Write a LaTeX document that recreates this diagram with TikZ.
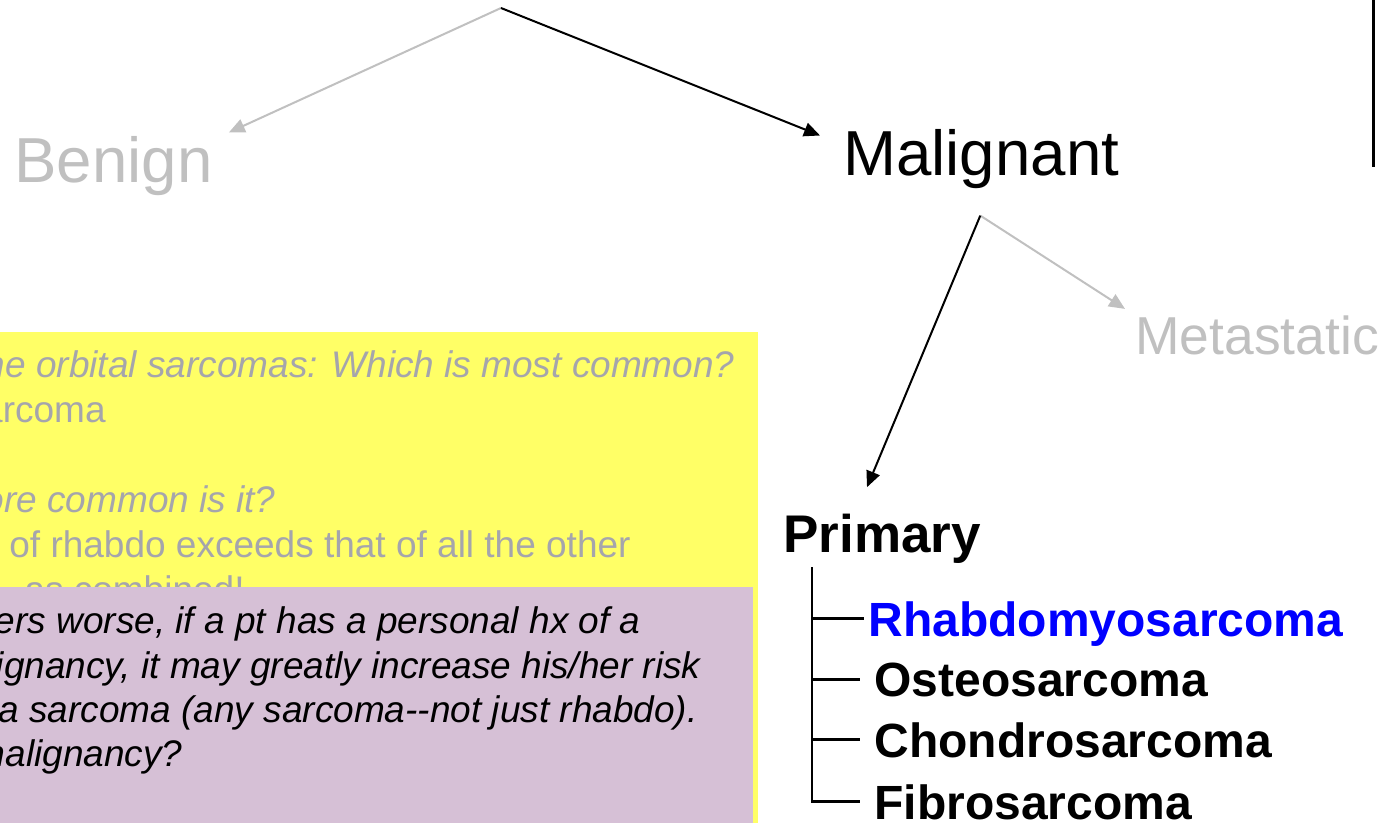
\documentclass[tikz,border=0pt]{standalone}
\usepackage{fontspec}
\setmainfont{Liberation Sans}
\usetikzlibrary{arrows.meta}
\definecolor{notepad}{RGB}{255,255,102}
\definecolor{notemauve}{RGB}{214,192,214}
\definecolor{fadedtxt}{RGB}{165,165,172}
\definecolor{fadegrey}{RGB}{192,192,192}

\begin{document}
\begin{tikzpicture}[x=0.5pt,y=-0.5pt,
    every node/.style={inner sep=0pt,anchor=base west},
    pick/.style={line width=1pt,-{Triangle[length=8pt,width=7pt]}},
    skip/.style={pick,color=fadegrey},
    twig/.style={line width=1.4pt},
    bigtxt/.style={font=\fontsize{31.8}{36}\selectfont},
    midtxt/.style={font=\fontsize{26.7}{30}\selectfont},
    leaf/.style={font=\bfseries\fontsize{24}{28}\selectfont,text depth=0pt},
    note/.style={anchor=base east,font=\fontsize{18.5}{22}\selectfont}]
  \useasboundingbox (0,0) rectangle (1385,823);
  \clip (0,0) rectangle (1385,823);

  % sticky notes
  \fill[notepad] (-20,332) rectangle (758,840);
  \node[note,fadedtxt] (qa) at (735,377) {\itshape he orbital sarcomas: Which is most common?};
  \node[note,fadedtxt] (qb) at (106,422) {arcoma};
  \node[note,fadedtxt] (qc) at (276,512) {\itshape ore common is it?};
  \node[note,fadedtxt] (qd) at (631,557) {of rhabdo exceeds that of all the other};
  \node[note,fadedtxt] (qe) at (245,602) {as combined!};
  \fill[notemauve] (-20,587) rectangle (753,840);
  \node[note] (pa) at (641,633) {\itshape ers worse, if a pt has a personal hx of a};
  \node[note] (pb) at (701,678) {\itshape ignancy, it may greatly increase his/her risk};
  \node[note] (pc) at (698,722) {\itshape a sarcoma (any sarcoma-{}-not just rhabdo).};
  \node[note] (pd) at (183,766) {\itshape malignancy?};

  % tree
  \coordinate (root) at (501,8);
  \node[bigtxt,fadegrey] (benign) at (14,183) {Benign};
  \node[bigtxt] (malig) at (843,176) {Malignant};
  \coordinate (fork) at ([shift={(-1,26)}]malig.south);
  \node[midtxt,fadegrey] (meta) at (1135,355) {Metastatic};
  \node[font=\bfseries\fontsize{26.5}{30}\selectfont] (prim) at (783,552) {Primary};
  \draw[skip] (root) -- ([shift={(16,-4)}]benign.north east);
  \draw[pick] (root) -- ([shift={(-23,6)}]malig.north west);
  \draw[skip] (fork) -- ([shift={(-10,-7)}]meta.north west);
  \draw[pick] (fork) -- ([shift={(84,-26)}]prim.north west);

  \node[leaf,blue] (rhab) at (868,636) {Rhabdomyosarcoma};
  \node[leaf] (osteo) at (874,696) {Osteosarcoma};
  \node[leaf] (chondro) at (874,757) {Chondrosarcoma};
  \node[leaf] (fibro) at (874,819) {Fibrosarcoma};
  \coordinate (trunk) at ([shift={(29,4)}]prim.south west);
  \draw[twig] (trunk) |- ([xshift=-2pt]rhab.west);
  \draw[twig] (trunk) |- ([xshift=-7pt]osteo.west);
  \draw[twig] (trunk) |- ([xshift=-7pt]chondro.west);
  \draw[twig] (trunk) |- ([xshift=-7pt]fibro.west);

  \draw[line width=1.5pt] (1373,0) -- (1373,167);
\end{tikzpicture}
\end{document}
